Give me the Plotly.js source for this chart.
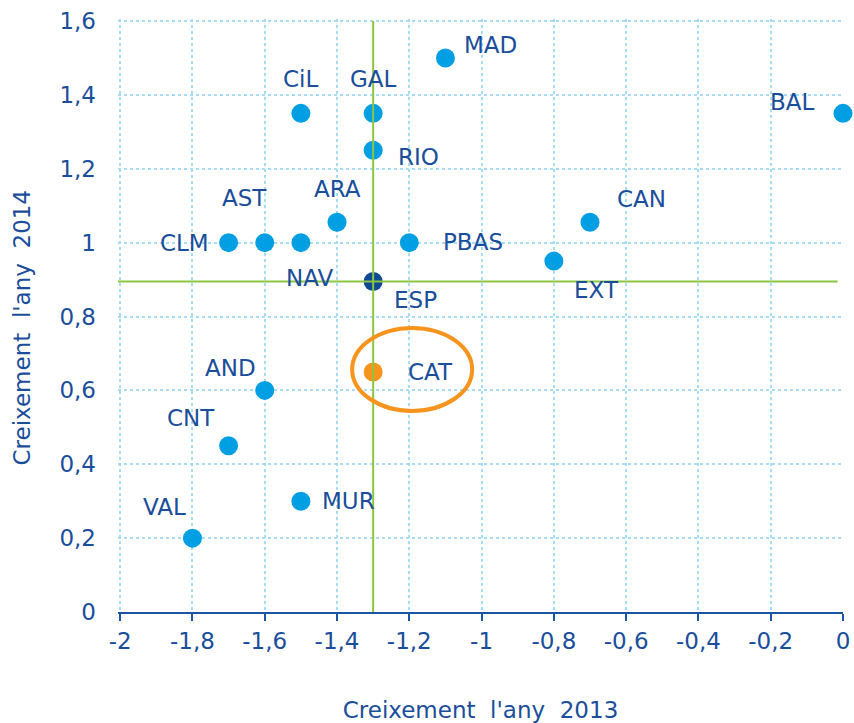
<!DOCTYPE html>
<html>
<head>
<meta charset="utf-8">
<script src="https://cdn.plot.ly/plotly-3.0.1.min.js"></script>
<style>
  html, body { margin: 0; padding: 0; background: #ffffff; }
  #chart { width: 854px; height: 723px; }
</style>
</head>
<body>
<div id="chart"></div>
<script>
// ---- Data ----
const regions  = ['VAL', 'CNT', 'MUR', 'AND', 'CLM', 'AST', 'NAV', 'ARA', 'CiL', 'GAL', 'RIO', 'PBAS', 'MAD', 'EXT', 'CAN', 'BAL'];
const growth2013 = [-1.8, -1.7, -1.5, -1.6, -1.7, -1.6, -1.5, -1.4, -1.5, -1.3, -1.3, -1.2, -1.1, -0.8, -0.7, 0.0];
const growth2014 = [0.20, 0.45, 0.30, 0.60, 1.00, 1.00, 1.00, 1.055, 1.35, 1.35, 1.25, 1.00, 1.50, 0.95, 1.055, 1.35];

const espLabel = ['ESP'];
const espX = [-1.3];
const espY = [0.895];

const catLabel = ['CAT'];
const catX = [-1.3];
const catY = [0.65];

const xTickVals = [-2, -1.8, -1.6, -1.4, -1.2, -1, -0.8, -0.6, -0.4, -0.2, 0];
const xTickText = ['-2', '-1,8', '-1,6', '-1,4', '-1,2', '-1', '-0,8', '-0,6', '-0,4', '-0,2', '0'];
const yTickVals = [0, 0.2, 0.4, 0.6, 0.8, 1, 1.2, 1.4, 1.6];
const yTickText = ['0', '0,2', '0,4', '0,6', '0,8', '1', '1,2', '1,4', '1,6'];

const xTitle = "Creixement  l'any  2013";
const yTitle = "Creixement  l'any  2014";

// ---- Label offsets in pixels (style only) ----
const labelShift = {
  VAL: [-28, 31], CNT: [-38, 28], MUR: [48, 0], AND: [-34, 22], CLM: [-44, 0],
  AST: [-20, 45], NAV: [9, -35], ARA: [0, 33], CiL: [0, 34], GAL: [0, 34],
  RIO: [45, -7], PBAS: [64, 1], MAD: [45, 13], EXT: [43, -29], CAN: [51, 23],
  BAL: [-51, 11], ESP: [42, -19], CAT: [57, 0]
};

const blue = '#009fe3';
const navy = '#0d4a93';
const orange = '#f7941d';
const textBlue = '#1a4e9b';
const green = '#8cc63f';
const gridBlue = '#a6dcf6';
const axisBlue = '#1d55a6';
const FONT = 'DejaVu Sans, Verdana, sans-serif';
const FS = 23;

const traces = [
  { type: 'scatter', mode: 'markers', x: growth2013, y: growth2014, text: regions,
    marker: { size: 19, color: blue }, cliponaxis: false, hoverinfo: 'text+x+y' },
  { type: 'scatter', mode: 'markers', x: espX, y: espY, text: espLabel,
    marker: { size: 19, color: navy }, cliponaxis: false, hoverinfo: 'text+x+y' },
  { type: 'scatter', mode: 'markers', x: catX, y: catY, text: catLabel,
    marker: { size: 19, color: orange }, cliponaxis: false, hoverinfo: 'text+x+y' }
];

const annotations = [];
function addLabels(names, xs, ys) {
  names.forEach((n, i) => {
    const s = labelShift[n] || [0, 0];
    annotations.push({
      x: xs[i], y: ys[i], xref: 'x', yref: 'y', text: n, showarrow: false,
      xshift: s[0], yshift: s[1], font: { family: FONT, size: FS, color: textBlue }
    });
  });
}
addLabels(regions, growth2013, growth2014);
addLabels(espLabel, espX, espY);
addLabels(catLabel, catX, catY);

// y-axis title (placed as rotated text to match the reference position)
annotations.push({
  xref: 'paper', yref: 'paper', x: 0, y: 0.5, xanchor: 'center', yanchor: 'middle',
  xshift: -97, yshift: -12, textangle: -90, showarrow: false, text: yTitle,
  font: { family: FONT, size: FS, color: textBlue }
});

const shapes = [
  // vertical reference line at Spain's 2013 growth
  { type: 'line', xref: 'x', yref: 'y', x0: espX[0], x1: espX[0], y0: 0, y1: 1.6,
    line: { color: green, width: 2 }, layer: 'above' },
  // horizontal reference line at Spain's 2014 growth
  { type: 'line', xref: 'x', yref: 'y', x0: -2.02, x1: -0.015, y0: espY[0], y1: espY[0],
    line: { color: green, width: 2 }, layer: 'above' },
  // orange ellipse highlighting Catalonia
  { type: 'circle', xref: 'x', yref: 'y', xsizemode: 'pixel', ysizemode: 'pixel',
    xanchor: catX[0], yanchor: catY[0], x0: -21, x1: 99, y0: -39, y1: 44,
    line: { color: orange, width: 4 }, fillcolor: 'rgba(0,0,0,0)', layer: 'above' }
];

const layout = {
  width: 854, height: 723,
  margin: { l: 118, r: 11, t: 19, b: 111 },
  paper_bgcolor: '#ffffff', plot_bgcolor: '#ffffff',
  showlegend: false,
  font: { family: FONT, color: textBlue, size: FS },
  xaxis: {
    range: [-2.006, 0], tickvals: xTickVals, ticktext: xTickText,
    showgrid: true, gridcolor: gridBlue, griddash: 'dot', gridwidth: 2,
    showline: true, linecolor: axisBlue, linewidth: 2,
    ticks: 'outside', ticklen: 7, tickwidth: 2, tickcolor: axisBlue,
    zeroline: false, tickfont: { family: FONT, size: FS, color: textBlue },
    title: { text: xTitle, font: { family: FONT, size: FS, color: textBlue }, standoff: 50 }
  },
  yaxis: {
    range: [0, 1.6055], tickvals: yTickVals, ticktext: yTickText,
    showgrid: true, gridcolor: gridBlue, griddash: 'dot', gridwidth: 2,
    showline: false, ticks: '', ticklabelstandoff: 21, zeroline: false,
    tickfont: { family: FONT, size: FS, color: textBlue }
  },
  yaxis2: {
    overlaying: 'y', side: 'right', anchor: 'x', range: [0, 1.6055], tickvals: yTickVals,
    showticklabels: false, showgrid: false, zeroline: false,
    showline: true, linecolor: axisBlue, linewidth: 2,
    ticks: 'inside', ticklen: 8, tickwidth: 2, tickcolor: axisBlue
  },
  annotations: annotations,
  shapes: shapes
};

Plotly.newPlot('chart', traces, layout, { displayModeBar: false, staticPlot: true });
</script>
</body>
</html>
